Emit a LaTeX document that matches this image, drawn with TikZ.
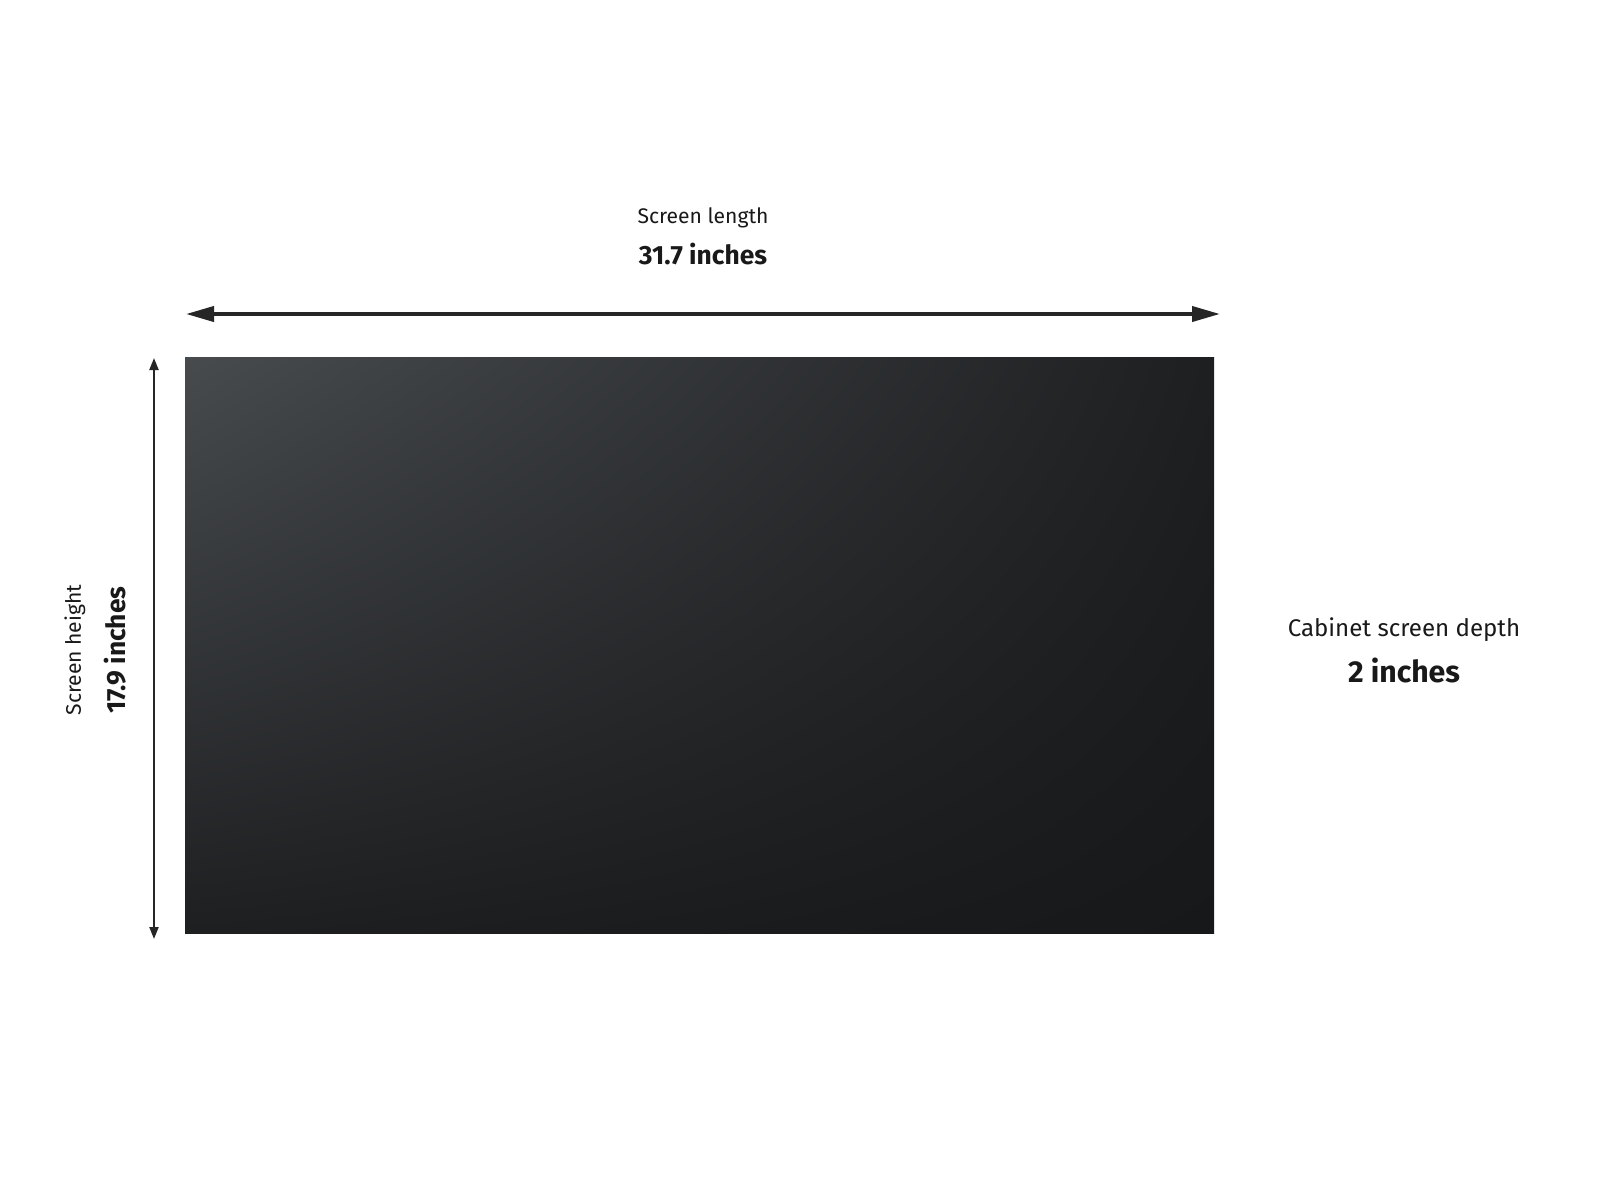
\documentclass[tikz,border=0pt]{standalone}
\usepackage{fontspec}
\setmainfont{Fira Sans}
\usetikzlibrary{arrows.meta,shadings}

\definecolor{panelLight}{HTML}{484B4E}
\definecolor{panelMid}{HTML}{1D1F21}
\definecolor{panelDark}{HTML}{17181A}

\begin{document}
\begin{tikzpicture}[
    x=0.01cm, y=-0.01cm,
    caption/.style={inner sep=0pt, font=\fontsize{6.0}{7}\selectfont, text=black!90},
    value/.style={inner sep=0pt, font=\fontsize{7.5}{9}\selectfont\bfseries, text=black!90},
    bigcaption/.style={caption, font=\fontsize{6.85}{8}\selectfont},
    bigvalue/.style={value, font=\fontsize{8.6}{10}\selectfont\bfseries},
    wide/.style={draw=black!85, line width=1.1pt, {Triangle[length=0.28cm, width=0.15cm]}-{Triangle[length=0.28cm, width=0.15cm]}},
    tall/.style={draw=black!85, line width=0.6pt, {Triangle[length=0.12cm, width=0.09cm]}-{Triangle[length=0.12cm, width=0.09cm]}}
]
\useasboundingbox[fill=white] (0,0) rectangle (1600,1200);

% screen panel
\shade[upper left=panelLight, upper right=panelMid, lower left=panelMid, lower right=panelDark]
    (185,357) rectangle (1214,933);
\coordinate (panelNW) at (185,357);
\coordinate (panelSE) at (1214,933);

% dimension arrows
\coordinate (lenL) at (186,314);
\coordinate (lenR) at (1220,314);
\coordinate (hgtT) at (154,358);
\coordinate (hgtB) at (154,939);
\draw[wide] (lenL) -- (lenR);
\draw[tall] (hgtT) -- (hgtB);

% labels
\node[caption] (lenText) at (703,218) {Screen length};
\node[value] (lenValue) at (703,254) {31.7 inches};

\node[caption, rotate=90] (hgtText) at (75,650) {Screen height};
\node[value, rotate=90] (hgtValue) at (115,650) {17.9 inches};

\node[bigcaption] (depthText) at (1404,630) {Cabinet screen depth};
\node[bigvalue] (depthValue) at (1404,670) {2 inches};

\end{tikzpicture}
\end{document}
